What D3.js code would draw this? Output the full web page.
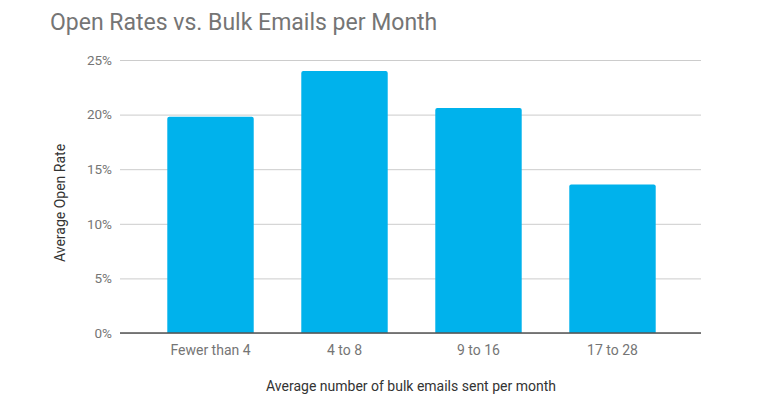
<!DOCTYPE html>
<html><head><meta charset="utf-8">
<script src="https://cdn.jsdelivr.net/npm/d3@7"></script>
<style>body{margin:0;background:#fff;}svg{display:block;font-family:Roboto,sans-serif;}</style>
</head><body><svg id="c" width="768" height="416"></svg>
<script>
const categories = ["Fewer than 4", "4 to 8", "9 to 16", "17 to 28"];
const openRates = [0.198, 0.240, 0.206, 0.136];
const yTicks = [0, 0.05, 0.10, 0.15, 0.20, 0.25];

const svg = d3.select("#c");
const m = {left:120, right:701, top:60, bottom:333};
const x = d3.scaleBand().domain(categories).range([122, 701]).paddingInner(0.355).paddingOuter(0.338);
const y = d3.scaleLinear().domain([0, 0.25]).range([m.bottom, m.top]);

svg.append("text").attr("x", 50).attr("y", 30).attr("font-size", 23).attr("fill", "#757575")
  .text("Open Rates vs. Bulk Emails per Month");

const yAxis = d3.axisLeft(y).tickValues(yTicks).tickFormat(d3.format(".0%")).tickSize(-(m.right - m.left)).tickPadding(8);
const gy = svg.append("g").attr("transform", `translate(${m.left},0)`).call(yAxis);
gy.select(".domain").remove();
gy.selectAll(".tick line").attr("stroke", "#cccccc").attr("stroke-width", 1);
gy.selectAll(".tick text").attr("fill", "#757575").attr("font-size", 13.5).attr("font-family", "Roboto, sans-serif");

svg.append("g").selectAll("path").data(categories).join("path")
  .attr("fill", "#00b2ec")
  .attr("d", (c, i) => {
    const x0 = x(c), w = x.bandwidth(), y0 = y(openRates[i]), y1 = y(0), r = 2;
    return `M${x0},${y1}V${y0 + r}Q${x0},${y0} ${x0 + r},${y0}H${x0 + w - r}Q${x0 + w},${y0} ${x0 + w},${y0 + r}V${y1}Z`;
  });

const xAxis = d3.axisBottom(x).tickSize(0).tickPadding(10);
const gx = svg.append("g").attr("transform", `translate(0,${m.bottom})`).call(xAxis);
gx.select(".domain").remove();
gx.selectAll(".tick text").attr("fill", "#757575").attr("font-size", 14).attr("font-family", "Roboto, sans-serif").attr("dy", "0.85em");
svg.append("line").attr("x1", m.left).attr("x2", m.right).attr("y1", y(0)).attr("y2", y(0))
  .attr("stroke", "#555").attr("stroke-width", 1.5);

svg.append("text").attr("x", 411).attr("y", 391).attr("text-anchor", "middle").attr("font-size", 14).attr("fill", "#333")
  .text("Average number of bulk emails sent per month");
svg.append("text").attr("transform", "translate(65,203) rotate(-90)").attr("text-anchor", "middle").attr("font-size", 14).attr("fill", "#333")
  .text("Average Open Rate");
</script></body></html>
